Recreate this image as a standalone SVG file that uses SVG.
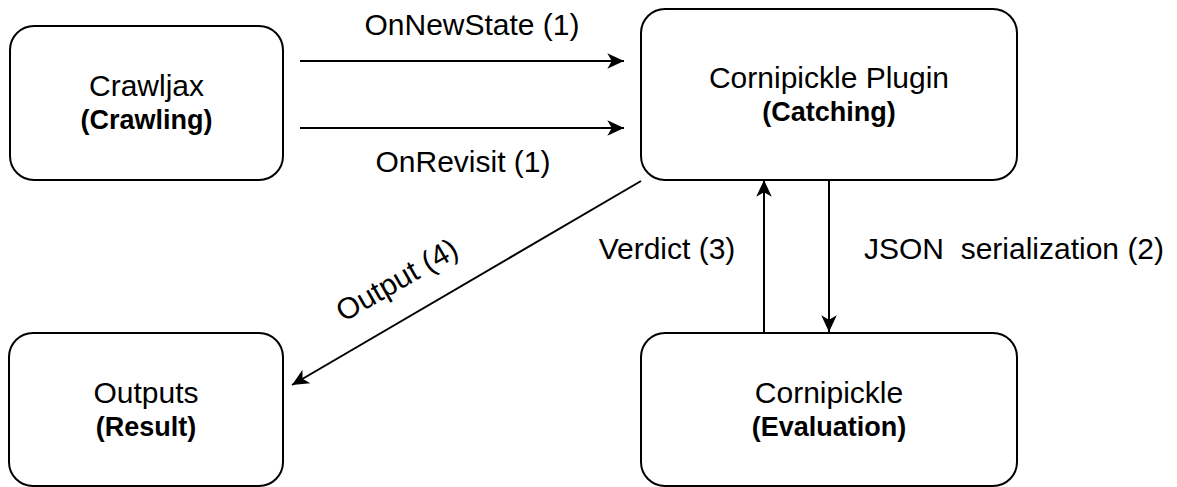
<svg xmlns="http://www.w3.org/2000/svg" width="1177" height="487" viewBox="0 0 1177 487">
  <style>
    .box { fill: #ffffff; stroke: #000000; stroke-width: 2; }
    .t { font-family: "Liberation Sans", Arial, Helvetica, sans-serif; font-size: 30px; fill: #000000; text-anchor: middle; }
    .b { font-weight: bold; font-size: 27px; }
    .edge { fill: none; stroke: #000000; stroke-width: 2; marker-end: url(#arrow); }
  </style>
  <defs>
    <marker id="arrow" markerUnits="userSpaceOnUse" markerWidth="20" markerHeight="20" viewBox="-16 -8 18 16" refX="0" refY="0" orient="auto">
      <path d="M0,0 L-15,-7 L-11,0 L-15,7 Z" fill="#000000"/>
    </marker>
  </defs>
  <rect width="1177" height="487" fill="#ffffff"/>

  <g id="connectors">
    <line class="edge" x1="300" y1="61" x2="624" y2="61"/>
    <line class="edge" x1="300" y1="128" x2="624" y2="128"/>
    <line class="edge" x1="641" y1="181" x2="292" y2="385"/>
    <line class="edge" x1="764" y1="332" x2="764" y2="180"/>
    <line class="edge" x1="829" y1="180" x2="829" y2="332"/>
    <text class="t" x="472" y="35">OnNewState (1)</text>
    <text class="t" x="463" y="172">OnRevisit (1)</text>
    <text class="t" x="667" y="259">Verdict (3)</text>
    <text class="t" x="1014" y="259" xml:space="preserve">JSON  serialization (2)</text>
    <text class="t" transform="translate(397,280) rotate(-30)" x="0" y="10">Output (4)</text>
  </g>

  <g id="crawljax">
    <rect class="box" x="10" y="26" width="273" height="154" rx="24" ry="24"/>
    <text class="t" x="146.5" y="96">Crawljax</text>
    <text class="t b" x="146.5" y="129">(Crawling)</text>
  </g>

  <g id="plugin">
    <rect class="box" x="641" y="9" width="376" height="171" rx="24" ry="24"/>
    <text class="t" x="829" y="88">Cornipickle Plugin</text>
    <text class="t b" x="829" y="121">(Catching)</text>
  </g>

  <g id="outputs">
    <rect class="box" x="9" y="333" width="274" height="153" rx="24" ry="24"/>
    <text class="t" x="146" y="403">Outputs</text>
    <text class="t b" x="146" y="436">(Result)</text>
  </g>

  <g id="cornipickle">
    <rect class="box" x="641" y="333" width="376" height="153" rx="24" ry="24"/>
    <text class="t" x="829" y="403">Cornipickle</text>
    <text class="t b" x="829" y="436">(Evaluation)</text>
  </g>
</svg>
